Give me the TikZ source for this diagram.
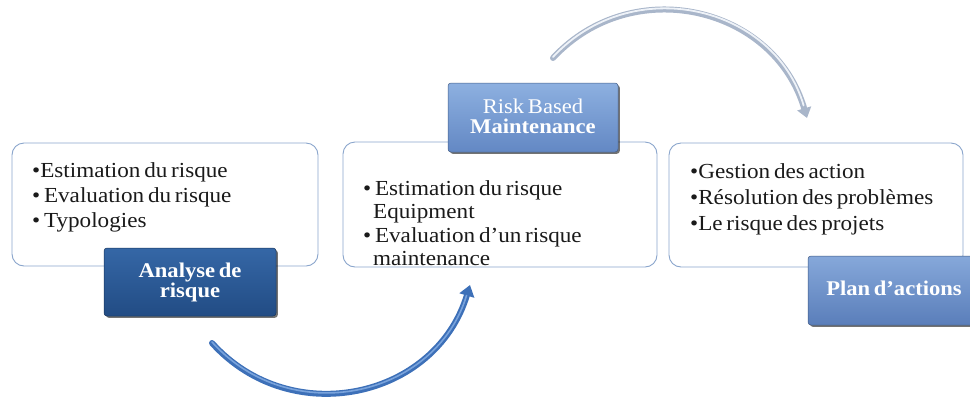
\documentclass[tikz,border=0pt]{standalone}
\usepackage{fontspec}
\setmainfont[FakeStretch=1.08,WordSpace=0.65]{Liberation Serif}
\usetikzlibrary{arrows.meta,shadows}
\definecolor{boxborder}{HTML}{8AA5CC}
\definecolor{darktop}{HTML}{3567A6}
\definecolor{darkbot}{HTML}{224C84}
\definecolor{lighttop}{HTML}{8DB0E0}
\definecolor{lightbot}{HTML}{6388C4}
\definecolor{medtop}{HTML}{86A8DA}
\definecolor{medbot}{HTML}{5A7EBA}
\definecolor{arrowblue}{HTML}{3D70B8}
\definecolor{arrowbluehi}{HTML}{79A3DC}
\definecolor{arrowgray}{HTML}{A9B6CA}
\definecolor{arrowgrayhi}{HTML}{EEF2F8}
\definecolor{txt}{HTML}{1A1A1A}
\tikzset{
  wbox/.style={draw=boxborder, line width=0.9bp, fill=white, rounded corners=12bp, inner sep=0pt},
  lbox/.style={rounded corners=3bp, inner sep=0pt, draw=#1!70!black, line width=0.5bp,
    drop shadow={shadow xshift=1.8bp, shadow yshift=-1.8bp, opacity=0.55, fill=black}},
  item/.style={anchor=base west, inner sep=0pt, text=txt, font=\fontsize{21.5}{23}\selectfont},
  ltext/.style={anchor=base, inner sep=0pt, text=white, font=\fontsize{21}{23}\selectfont},
}
\begin{document}
\begin{tikzpicture}[x=1bp,y=-1bp]
\useasboundingbox (0,0) rectangle (970,396);
% white content boxes
\node[wbox, minimum width=306bp, minimum height=123bp] (b1) at (165,204.5) {};
\node[wbox, minimum width=314bp, minimum height=125bp] (b2) at (500,204.5) {};
\node[wbox, minimum width=294bp, minimum height=124bp] (b3) at (816,205) {};
% label boxes
\node[lbox=darkbot, top color=darktop, bottom color=darkbot, minimum width=172bp, minimum height=68bp] (l1) at (190,282) {};
\node[lbox=lightbot, top color=lighttop, bottom color=lightbot, minimum width=170bp, minimum height=69bp] (l2) at (533,117.5) {};
\node[lbox=medbot, top color=medtop, bottom color=medbot, minimum width=168bp, minimum height=69bp] (l3) at (892,290.5) {};
% box 1 text
\node[item] (t11) at (32,177) {•Estimation du risque};
\node[item] (t12) at (32,202) {•\ Evaluation du risque};
\node[item] (t13) at (32,227) {•\ Typologies};
% box 2 text
\node[item] (t21) at (363,195) {•\ Estimation du risque};
\node[item] (t22) at (373,218) {Equipment};
\node[item] (t23) at (363,242) {•\ Evaluation d’un risque};
\node[item] (t24) at (373,265) {maintenance};
% box 3 text
\node[item] (t31) at (690,178) {•Gestion des action};
\node[item] (t32) at (690,204) {•Résolution des problèmes};
\node[item] (t33) at (690,230) {•Le risque des projets};
% label texts
\node[ltext] (a1) at (190,277) {\bfseries Analyse de};
\node[ltext] (a2) at (190,297) {\bfseries risque};
\node[ltext] (m1) at (533,113) {Risk Based};
\node[ltext] (m2) at (533,133) {\bfseries Maintenance};
\node[ltext] (p1) at (894,295) {\bfseries Plan d’actions};
% curved arrows
\coordinate (s1) at (212,343);
\coordinate (e1) at (470,285);
\coordinate (s2) at (553,58);
\coordinate (e2) at (807,118);
\draw[arrowblue, line width=6bp, line cap=round, -{Triangle[width=15bp,length=11bp]}]
  (s1) .. controls (291.3,430.9) and (435.8,398.3) .. (e1);
\draw[arrowbluehi, line width=1.6bp, line cap=round, shorten >=12bp]
  ([shift={(0,-1)}]s1) .. controls (291.3,429.9) and (435.8,397.3) .. ([shift={(0,-1)}]e1);
\draw[arrowgray, line width=6bp, line cap=round, -{Triangle[width=14bp,length=10bp]}]
  (s2) .. controls (632.3,-27.3) and (774.3,6.2) .. (e2);
\draw[arrowgrayhi, line width=1.8bp, line cap=round, shorten >=12bp]
  ([shift={(0,-1)}]s2) .. controls (632.3,-28.3) and (774.3,5.2) .. ([shift={(0,-1)}]e2);
\end{tikzpicture}
\end{document}
